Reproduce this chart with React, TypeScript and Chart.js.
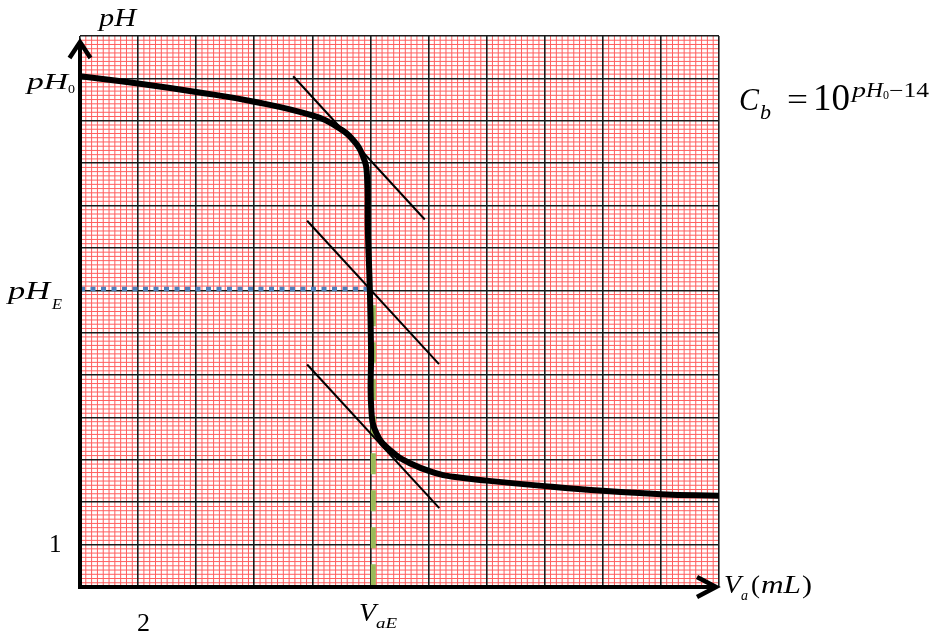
import React, { useEffect, useRef } from 'react';
import { Chart, registerables } from 'chart.js';

Chart.register(...registerables);

// ---- data (V_a in mL, pH) ----
const volumes = [0, 2, 4, 6, 8.03, 8.84, 9.41, 9.75, 9.88, 9.91, 9.98, 10.02, 10.03, 10.21, 10.67, 11.36, 12.28, 12.85, 14.0, 16.0, 18.0, 20.0, 22.0];
const phValues = [12.05, 11.88, 11.68, 11.45, 11.12, 10.86, 10.54, 10.15, 9.72, 8.42, 7.0, 5.59, 4.18, 3.62, 3.23, 2.92, 2.68, 2.6, 2.51, 2.38, 2.27, 2.19, 2.15];

const tangent1V = [7.34, 11.87];
const tangent1PH = [12.05, 8.67];
const tangent2V = [7.82, 12.36];
const tangent2PH = [8.64, 5.26];
const tangent3V = [7.82, 12.37];
const tangent3PH = [5.25, 1.86];

const equivV = [0, 9.95];
const equivPH = [7.03, 7.03];
const vaeV = [10.1, 10.1];
const vaePH = [6.65, 0];

const xMax = 22;
const yMax = 13;
const xMinorPerMajor = 10; // 0.2 mL
const yMinorPerMajor = 10; // 0.1 pH
const xMajorStep = 2;
const yMajorStep = 1;

const pts = (xs: number[], ys: number[]) => xs.map((x, i) => ({ x, y: ys[i] }));

const SERIF = '"Liberation Serif", "Times New Roman", Times, serif';

function txt(ctx: CanvasRenderingContext2D, s: string, x: number, y: number, size: number, italic: boolean, w?: number) {
  ctx.font = `${italic ? 'italic ' : ''}${size}px ${SERIF}`;
  ctx.textBaseline = 'alphabetic';
  ctx.textAlign = 'left';
  ctx.fillStyle = '#000';
  if (w) {
    const m = ctx.measureText(s).width;
    ctx.save();
    ctx.translate(x, y);
    ctx.scale(w / m, 1);
    ctx.fillText(s, 0, 0);
    ctx.restore();
  } else {
    ctx.fillText(s, x, y);
  }
}

// minor (red) graph-paper lines, placed through the scales' own ticks, un-snapped
const minorGridPlugin = {
  id: 'minorGrid',
  beforeDraw(chart: any) {
    const { ctx, chartArea: a, scales } = chart;
    ctx.save();
    ctx.strokeStyle = '#ff5e5e';
    ctx.lineWidth = 1;
    ctx.beginPath();
    for (const t of scales.x.ticks) {
      if (t.major) continue;
      const px = scales.x.getPixelForValue(t.value);
      ctx.moveTo(px, a.top);
      ctx.lineTo(px, a.bottom);
    }
    for (const t of scales.y.ticks) {
      if (t.major) continue;
      const py = scales.y.getPixelForValue(t.value);
      ctx.moveTo(a.left, py);
      ctx.lineTo(a.right, py);
    }
    ctx.stroke();
    ctx.restore();
  },
};

const axesPlugin = {
  id: 'axesArrows',
  afterDatasetsDraw(chart: any) {
    const { ctx, scales } = chart;
    const x = scales.x, y = scales.y;
    const x0 = x.getPixelForValue(0);
    const y0 = y.getPixelForValue(0);
    const top = y.getPixelForValue(yMax) + 4;
    const right = x.getPixelForValue(xMax);
    ctx.save();
    ctx.strokeStyle = '#000';
    ctx.lineWidth = 4;
    ctx.beginPath();
    ctx.moveTo(x0, y0 + 2);
    ctx.lineTo(x0, top + 2);
    ctx.moveTo(x0 - 2, y0);
    ctx.lineTo(right - 2, y0);
    ctx.stroke();
    ctx.lineWidth = 4.5;
    ctx.lineJoin = 'miter';
    ctx.lineCap = 'butt';
    ctx.beginPath();
    ctx.moveTo(x0 - 10.5, top + 18);
    ctx.lineTo(x0, top + 2);
    ctx.lineTo(x0 + 10.5, top + 18);
    ctx.moveTo(right - 22, y0 - 10);
    ctx.lineTo(right - 3, y0);
    ctx.lineTo(right - 22, y0 + 10);
    ctx.stroke();
    ctx.restore();
  },
  afterDraw(chart: any) {
    const ctx = chart.ctx as CanvasRenderingContext2D;
    ctx.save();
    // pH (axis title)
    txt(ctx, 'pH', 99, 26, 25, true, 37);
    // pH0
    txt(ctx, 'pH', 27, 89, 24, true, 41);
    txt(ctx, '0', 68, 93, 13, false, 7);
    // pHE
    txt(ctx, 'pH', 8, 299, 25, true, 42);
    txt(ctx, 'E', 52, 309, 14, true, 10);
    // 1 and 2
    txt(ctx, '1', 49, 552, 25, false);
    txt(ctx, '2', 137, 631, 26, false);
    // V_aE
    txt(ctx, 'V', 359, 621, 25, true, 17);
    txt(ctx, 'aE', 376, 628, 15, true, 21);
    // V_a (mL)
    txt(ctx, 'V', 724, 593, 25, true, 17);
    txt(ctx, 'a', 741, 600, 14, true, 7);
    txt(ctx, '(', 751, 593, 25, false, 9);
    txt(ctx, 'mL', 761, 593, 25, true, 40);
    txt(ctx, ')', 802, 593, 25, false, 10);
    // C_b = 10^{pH0-14}
    txt(ctx, 'C', 739, 110, 31, true, 20);
    txt(ctx, 'b', 760, 119, 21, true, 11);
    txt(ctx, '=', 787, 110, 31, false, 21);
    txt(ctx, '10', 813, 110, 37, false, 37);
    txt(ctx, 'p', 852, 97, 20, true, 14);
    txt(ctx, 'H', 866, 97, 20, true, 17);
    txt(ctx, '0', 883, 99, 12, false, 6);
    txt(ctx, '\u221214', 889, 97, 20, false, 40);
    ctx.restore();
  },
};

const gridScale = (max: number, majorStep: number, perMajor: number) => ({
  type: 'linear',
  min: 0,
  max,
  afterBuildTicks: (scale: any) => {
    const n = Math.round((max / majorStep) * perMajor);
    const t: any[] = [];
    for (let i = 0; i <= n; i++) t.push({ value: (i * majorStep) / perMajor, major: i % perMajor === 0 });
    scale.ticks = t;
  },
  ticks: { display: false },
  border: { display: false },
  grid: {
    drawTicks: false,
    tickLength: 0,
    color: (c: any) => (c.tick && c.tick.major ? '#1a1a1a' : 'rgba(0,0,0,0)'),
    lineWidth: (c: any) => (c.tick && c.tick.major ? 1.6 : 0),
  },
});

export default function App() {
  const ref = useRef<HTMLCanvasElement | null>(null);
  useEffect(() => {
    if (!ref.current) return;
    const lineDs = (data: any, color: string, width: number, extra: any = {}) => ({
      data,
      borderColor: color,
      backgroundColor: color,
      borderWidth: width,
      pointRadius: 0,
      fill: false,
      tension: 0,
      ...extra,
    });
    const chart = new Chart(ref.current, {
      type: 'line',
      data: {
        datasets: [
          lineDs(pts(volumes, phValues), '#000', 6, { tension: 0.45, borderJoinStyle: 'round', borderCapStyle: 'butt' }),
          lineDs(pts(tangent1V, tangent1PH), '#000', 2),
          lineDs(pts(tangent2V, tangent2PH), '#000', 2),
          lineDs(pts(tangent3V, tangent3PH), '#000', 2),
          lineDs(pts(vaeV, vaePH), '#9BBB59', 5, { borderDash: [21, 16] }),
          lineDs(pts(equivV, equivPH), '#4F81BD', 4.5, { borderDash: [5, 5.5] }),
        ],
      },
      options: {
        responsive: false,
        devicePixelRatio: 1,
        animation: false,
        events: [],
        layout: { padding: { left: 80, top: 36, right: 218, bottom: 47 } },
        plugins: { legend: { display: false }, tooltip: { enabled: false }, title: { display: false } },
        scales: {
          x: gridScale(xMax, xMajorStep, xMinorPerMajor),
          y: gridScale(yMax, yMajorStep, yMinorPerMajor),
        },
      },
      plugins: [minorGridPlugin, axesPlugin],
    } as any);
    const fonts: any = (document as any).fonts;
    if (fonts && fonts.load) {
      Promise.all([
        fonts.load('italic 24px "Liberation Serif"'),
        fonts.load('24px "Liberation Serif"'),
      ]).then(() => { try { chart.draw(); } catch (e) {} }).catch(() => {});
    }
    return () => chart.destroy();
  }, []);
  return (
    <div style={{ position: 'absolute', left: 0, top: 0, width: 937, height: 634, background: '#fff' }}>
      <canvas ref={ref} width={937} height={634} style={{ display: 'block', width: 937, height: 634 }} />
    </div>
  );
}
